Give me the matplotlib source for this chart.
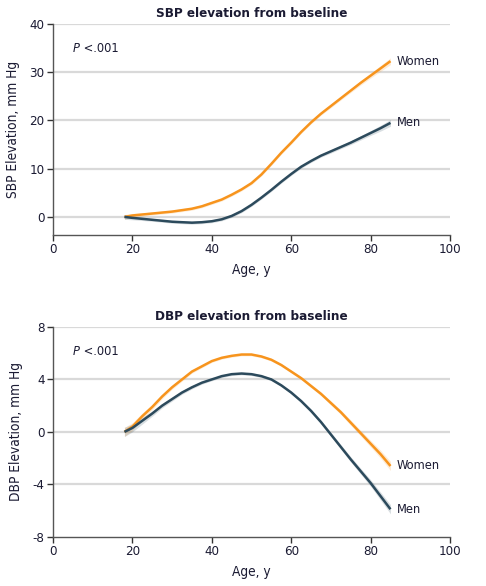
import matplotlib
matplotlib.use("Agg")
import matplotlib.pyplot as plt
import numpy as np

ages = [18, 20, 22.5, 25, 27.5, 30, 32.5, 35, 37.5, 40, 42.5, 45, 47.5, 50, 52.5,
        55, 57.5, 60, 62.5, 65, 67.5, 70, 72.5, 75, 77.5, 80, 82.5, 85]

sbp_women = [0.0, 0.3, 0.5, 0.7, 0.9, 1.1, 1.4, 1.7, 2.2, 2.9, 3.6, 4.6, 5.7, 7.0, 8.8,
             11.0, 13.3, 15.4, 17.6, 19.6, 21.4, 23.0, 24.6, 26.2, 27.8, 29.3, 30.8, 32.3]
sbp_men = [0.0, -0.2, -0.4, -0.6, -0.8, -1.0, -1.1, -1.2, -1.1, -0.9, -0.5, 0.2, 1.2, 2.5, 4.0,
           5.6, 7.3, 8.9, 10.4, 11.6, 12.7, 13.6, 14.5, 15.4, 16.4, 17.4, 18.4, 19.5]
sbp_ci = [0.5, 0.4, 0.35, 0.3, 0.3, 0.3, 0.3, 0.3, 0.3, 0.3, 0.3, 0.3, 0.3, 0.3, 0.3,
          0.3, 0.3, 0.3, 0.3, 0.3, 0.3, 0.35, 0.35, 0.4, 0.45, 0.5, 0.6, 0.7]

dbp_women = [0.0, 0.4, 1.2, 1.9, 2.7, 3.4, 4.0, 4.6, 5.0, 5.4, 5.65, 5.8, 5.9, 5.9, 5.75,
             5.5, 5.1, 4.6, 4.1, 3.5, 2.9, 2.2, 1.5, 0.7, -0.1, -0.9, -1.7, -2.6]
dbp_men = [0.0, 0.3, 0.85, 1.4, 2.0, 2.5, 3.0, 3.4, 3.75, 4.0, 4.25, 4.4, 4.45, 4.4, 4.25,
           4.0, 3.55, 3.0, 2.35, 1.6, 0.75, -0.2, -1.15, -2.1, -3.0, -3.9, -4.9, -5.9]
dbp_ci = [0.35, 0.3, 0.25, 0.2, 0.17, 0.15, 0.13, 0.12, 0.11, 0.1, 0.1, 0.1, 0.1, 0.1, 0.1,
          0.1, 0.1, 0.1, 0.11, 0.12, 0.13, 0.15, 0.17, 0.2, 0.22, 0.25, 0.3, 0.35]

x_ticks = [0, 20, 40, 60, 80, 100]
sbp_ticks = [0, 10, 20, 30, 40]
dbp_ticks = [-8, -4, 0, 4, 8]

WOMEN = "#F7941D"
MEN = "#2C4A5C"
TXT = "#1B1B33"

plt.rcParams['font.family'] = ['DejaVu Sans']
plt.rcParams['font.stretch'] = 'condensed'
plt.rcParams['axes.unicode_minus'] = False

fig = plt.figure(figsize=(4.86, 5.86), dpi=100)
ax1 = fig.add_axes([0.109, 0.599, 0.817, 0.360])
ax2 = fig.add_axes([0.109, 0.084, 0.817, 0.358])


def style(ax, yticks, ylim, ylabel, title):
    ax.set_xlim(0, 100)
    ax.set_ylim(*ylim)
    ax.set_xticks(x_ticks)
    ax.set_yticks(yticks)
    for s in ['top', 'right']:
        ax.spines[s].set_visible(False)
    for s in ['left', 'bottom']:
        ax.spines[s].set_color('#555555')
        ax.spines[s].set_linewidth(1.0)
    ax.tick_params(axis='both', direction='out', length=4, width=1.0, color='#333333',
                   labelsize=9.5, labelcolor=TXT, pad=2)
    for t in yticks:
        if t > ylim[0]:
            ax.axhline(t, color='#D9D9D9', lw=1.6, zorder=0)
    ax.set_ylabel(ylabel, fontsize=9.8, color=TXT, labelpad=7)
    ax.set_xlabel('Age, y', fontsize=9.8, color=TXT, labelpad=5)
    ax.set_title(title, fontsize=9.6, fontweight='bold', color=TXT, pad=5)
    t = ax.text(5, ylim[1] - (ylim[1] - ylim[0]) * 0.115, 'P', style='italic', fontsize=9.2,
                color=TXT, va='center')
    ax.annotate(' <.001', xy=(1, 0.5), xycoords=t, va='center', ha='left', fontsize=9.2, color=TXT)


def draw(ax, w, m, ci):
    a = np.array(ages)
    e = np.array(ci)
    for vals, c in [(w, WOMEN), (m, MEN)]:
        v = np.array(vals)
        ax.fill_between(a, v - e, v + e, color=c, alpha=0.18, lw=0, zorder=2)
        ax.plot(a, v, color=c, lw=1.8, zorder=3, solid_capstyle='butt')
    ax.text(86.5, w[-1], 'Women', fontsize=9.2, color=TXT, va='center', ha='left')
    ax.text(86.5, m[-1], 'Men', fontsize=9.2, color=TXT, va='center', ha='left')


style(ax1, sbp_ticks, (-3.75, 40), 'SBP Elevation, mm Hg', 'SBP elevation from baseline')
draw(ax1, sbp_women, sbp_men, sbp_ci)
style(ax2, dbp_ticks, (-8, 8), 'DBP Elevation, mm Hg', 'DBP elevation from baseline')
draw(ax2, dbp_women, dbp_men, dbp_ci)

fig.savefig('out.png', dpi=100, facecolor='white')
